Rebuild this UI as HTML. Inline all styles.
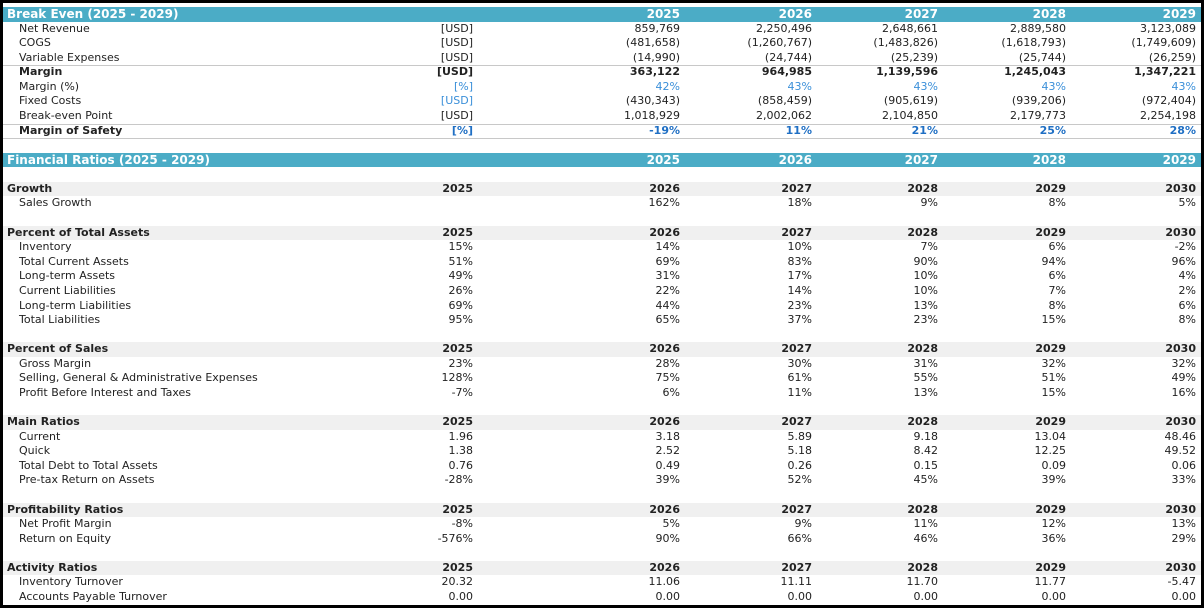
<!DOCTYPE html>
<html><head><meta charset="utf-8"><style>
body{margin:0;width:1204px;height:608px;background:#000;overflow:hidden;font-family:"DejaVu Sans","Liberation Sans",sans-serif;}
#sheet{position:absolute;left:3px;top:3px;width:1198px;height:602px;background:#fff;}
.r{position:absolute;left:0;width:1198px;height:14.6px;font-size:11px;line-height:14.6px;color:#222;}
.c{position:absolute;top:0;white-space:nowrap;}
.h{background:#4bacc6;color:#fff;font-weight:bold;font-size:12px;}
.sec{background:#f0f0f0;font-weight:bold;}
.b{font-weight:bold;}
.blue{color:#3a8fd9;}
.dblue{color:#1f6fc4;font-weight:bold;}
.line{border-bottom:1px solid #c8c8c8;}
</style></head><body>
<div id="sheet"></div>
<script>
const beYears=["2025","2026","2027","2028","2029"];
const frYears=["2025","2026","2027","2028","2029","2030"];
const beRows=[
["Net Revenue","[USD]",["859,769","2,250,496","2,648,661","2,889,580","3,123,089"],""],
["COGS","[USD]",["(481,658)","(1,260,767)","(1,483,826)","(1,618,793)","(1,749,609)"],""],
["Variable Expenses","[USD]",["(14,990)","(24,744)","(25,239)","(25,744)","(26,259)"],"line"],
["Margin","[USD]",["363,122","964,985","1,139,596","1,245,043","1,347,221"],"b"],
["Margin (%)","[%]",["42%","43%","43%","43%","43%"],"blue"],
["Fixed Costs","[USD]",["(430,343)","(858,459)","(905,619)","(939,206)","(972,404)"],"blueunit"],
["Break-even Point","[USD]",["1,018,929","2,002,062","2,104,850","2,179,773","2,254,198"],"line"],
["Margin of Safety","[%]",["-19%","11%","21%","25%","28%"],"mos"]];
const frSections=[
["Growth",[["Sales Growth",["","162%","18%","9%","8%","5%"]]]],
["Percent of Total Assets",[["Inventory",["15%","14%","10%","7%","6%","-2%"]],["Total Current Assets",["51%","69%","83%","90%","94%","96%"]],["Long-term Assets",["49%","31%","17%","10%","6%","4%"]],["Current Liabilities",["26%","22%","14%","10%","7%","2%"]],["Long-term Liabilities",["69%","44%","23%","13%","8%","6%"]],["Total Liabilities",["95%","65%","37%","23%","15%","8%"]]]],
["Percent of Sales",[["Gross Margin",["23%","28%","30%","31%","32%","32%"]],["Selling, General & Administrative Expenses",["128%","75%","61%","55%","51%","49%"]],["Profit Before Interest and Taxes",["-7%","6%","11%","13%","15%","16%"]]]],
["Main Ratios",[["Current",["1.96","3.18","5.89","9.18","13.04","48.46"]],["Quick",["1.38","2.52","5.18","8.42","12.25","49.52"]],["Total Debt to Total Assets",["0.76","0.49","0.26","0.15","0.09","0.06"]],["Pre-tax Return on Assets",["-28%","39%","52%","45%","39%","33%"]]]],
["Profitability Ratios",[["Net Profit Margin",["-8%","5%","9%","11%","12%","13%"]],["Return on Equity",["-576%","90%","66%","46%","36%","29%"]]]],
["Activity Ratios",[["Inventory Turnover",["20.32","11.06","11.11","11.70","11.77","-5.47"]],["Accounts Payable Turnover",["0.00","0.00","0.00","0.00","0.00","0.00"]]]]];
const beRight=[677,809,935,1063,1193];
const frRight=[470,677,809,935,1063,1193];
const sheet=document.getElementById('sheet');
let idx=0;
function row(cls,name){const r=document.createElement('div');r.className='r '+(cls||'');r.style.top=(4+idx*14.575)+'px';


sheet.appendChild(r);idx++;return r;}
function cell(r,txt,x,right,cls,name){const c=document.createElement('div');c.className='c '+(cls||'');c.textContent=txt;
if(right){c.style.right=(1198-x)+'px';}else{c.style.left=x+'px';}


r.appendChild(c);return c;}
let r=row('h','break-even-header');cell(r,'Break Even (2025 - 2029)',4,false,'','break-even-title');
beYears.forEach((y,i)=>cell(r,y,beRight[i],true,'','year-header-'+y));
beRows.forEach(d=>{const cls=d[3];const rr=row(cls==='line'?'line':(cls==='mos'?'line b':''),'row-'+d[0].toLowerCase().replace(/[^a-z]+/g,'-'));
const lc=cls==='b'||cls==='mos'?'b':'';
cell(rr,d[0],16,false,lc,'row-label');
const uc=cls==='blue'||cls==='blueunit'?'blue':(cls==='mos'?'dblue':(cls==='b'?'b':''));
cell(rr,d[1],470,true,uc,'unit-label');
const vc=cls==='blue'?'blue':(cls==='mos'?'dblue':(cls==='b'?'b':''));
d[2].forEach((v,i)=>cell(rr,v,beRight[i],true,vc,'value-'+beYears[i]));});
row('','spacer');
r=row('h','financial-ratios-header');cell(r,'Financial Ratios (2025 - 2029)',4,false,'','financial-ratios-title');
beYears.forEach((y,i)=>cell(r,y,beRight[i],true,'','year-header-'+y));
frSections.forEach((s,si)=>{row('','spacer');
const sr=row('sec','section-'+s[0].toLowerCase().replace(/[^a-z]+/g,'-'));cell(sr,s[0],4,false,'','section-title');
frYears.forEach((y,i)=>cell(sr,y,frRight[i],true,'','section-year-'+y));
s[1].forEach(d=>{const rr=row('','row-'+d[0].toLowerCase().replace(/[^a-z]+/g,'-'));cell(rr,d[0],16,false,'','row-label');
d[1].forEach((v,i)=>cell(rr,v,frRight[i],true,'','value-'+frYears[i]));});});
</script>
</body></html>
